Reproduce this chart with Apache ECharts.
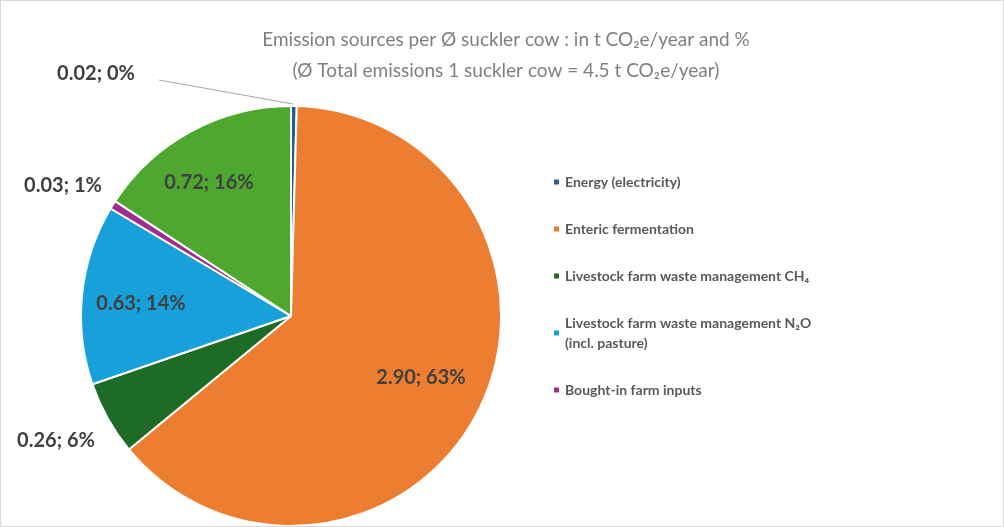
<!DOCTYPE html>
<html><head><meta charset="utf-8">
<script src="https://cdn.jsdelivr.net/npm/echarts@6/dist/echarts.min.js"></script>
<style>html,body{margin:0;padding:0;}#c{width:1004px;height:527px;box-sizing:border-box;border:1px solid #d9d9d9;}</style>
</head><body><div id="c"></div>
<script>
var names = ['Energy (electricity)', 'Enteric fermentation', 'Livestock farm waste management CH\u2084',
  'Livestock farm waste management N\u2082O\n(incl. pasture)', 'Bought-in farm inputs', 'Other'];
var values = [0.02, 2.90, 0.26, 0.63, 0.03, 0.72];
var pcts = ['0%', '63%', '6%', '14%', '1%', '16%'];
var colors = ['#255e91', '#ed7d31', '#1e6b27', '#17a0da', '#a02b93', '#4ea72e'];
// label anchor points as placed in the original chart
var labelPos = [[95, 73], [420, 377], [55, 440], [140, 303], [62, 185], [208, 182]];

var myChart = echarts.init(document.getElementById('c'));
var data = names.map(function (n, i) {
  return {
    name: n, value: values[i],
    itemStyle: {color: colors[i]},
    labelLine: {show: i === 0, lineStyle: {color: '#a6a6a6'}}
  };
});
var option = {
  title: {
    text: 'Emission sources per \u00d8 suckler cow : in t CO\u2082e/year and %\n(\u00d8 Total emissions 1 suckler cow = 4.5 t CO\u2082e/year)',
    left: 500, top: 18, textAlign: 'center',
    textStyle: {color: '#7f7f7f', fontSize: 19, fontWeight: 'normal', lineHeight: 31, fontFamily: 'Lato'}
  },
  legend: {
    orient: 'vertical', left: 546, top: 166, itemWidth: 7, itemHeight: 7, itemGap: 27,
    icon: 'rect',
    data: names.slice(0, 5),
    textStyle: {color: '#595959', fontSize: 14, fontWeight: 'bold', fontFamily: 'Lato', lineHeight: 20}
  },
  series: [{
    type: 'pie', center: [290, 315], radius: 210, startAngle: 90,
    avoidLabelOverlap: false,
    itemStyle: {borderColor: '#fff', borderWidth: 2},
    label: {
      show: true, position: 'outside',
      formatter: function (p) { return values[p.dataIndex].toFixed(2) + '; ' + pcts[p.dataIndex]; },
      color: '#404040', fontSize: 20, fontWeight: 'bold', fontFamily: 'Lato'
    },
    labelLayout: function (p) {
      var q = labelPos[p.dataIndex];
      var r = {x: q[0], y: q[1], align: 'center', verticalAlign: 'middle', hideOverlap: false};
      if (p.dataIndex === 0) r.labelLinePoints = [[292, 103], [158, 79], [158, 79]];
      return r;
    },
    data: data
  }]
};
myChart.setOption(option, true);
</script></body></html>
